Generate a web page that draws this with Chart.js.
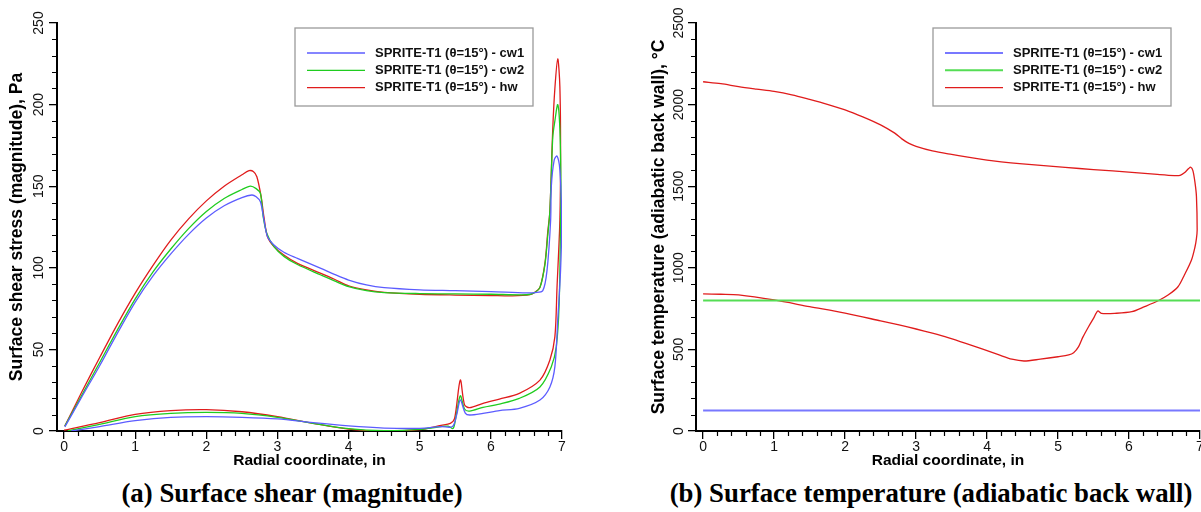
<!DOCTYPE html>
<html>
<head>
<meta charset="utf-8">
<script src="https://cdn.jsdelivr.net/npm/chart.js@4.4.1/dist/chart.umd.min.js"></script>
<style>
  html, body { margin: 0; padding: 0; background: #fff; width: 1201px; height: 512px; overflow: hidden; }
  .panel { position: absolute; top: 0; }
  .caption { position: absolute; top: 478px; font: bold 26.8px "Liberation Serif", "Times New Roman", serif; color: #000; text-align: center; white-space: nowrap; }
</style>
</head>
<body>
<div class="panel" style="left:0"><canvas id="shearChart" width="600" height="472"></canvas></div>
<div class="panel" style="left:600px"><canvas id="tempChart" width="610" height="472"></canvas></div>
<div class="caption" style="left:0;width:584px">(a) Surface shear (magnitude)</div>
<div class="caption" style="left:600px;width:662px">(b) Surface temperature (adiabatic back wall)</div>
<script>
const seriesLabels = ["SPRITE-T1 (θ=15°) - cw1", "SPRITE-T1 (θ=15°) - cw2", "SPRITE-T1 (θ=15°) - hw"];
const xTickValues = [0, 1, 2, 3, 4, 5, 6, 7];

// (a) shear magnitude along the wall: out along the upper branch, back along the lower one
const shearCw1X = [0.01, 0.25, 0.5, 0.75, 1, 1.25, 1.5, 1.75, 2, 2.25, 2.5, 2.64, 2.7, 2.76, 2.81, 2.86, 2.95, 3.09, 3.28, 3.61, 3.8, 4, 4.25, 4.5, 5, 5.5, 6, 6.5, 6.62, 6.73, 6.79, 6.84, 6.85, 6.89, 6.93, 6.97, 6.995, 6.98, 6.94, 6.9, 6.83, 6.69, 6.4, 6.12, 5.89, 5.7, 5.64, 5.57, 5.52, 5.46, 5.3, 5, 4.5, 4, 3.5, 3, 2.5, 2, 1.5, 1, 0.5, 0.1];
const shearCw1 = [2.5, 21, 40, 60, 79, 95, 108.5, 120.5, 130.5, 138, 143, 144.6, 143.5, 140.5, 129.3, 119, 114, 109.5, 105.8, 99.7, 96, 92.5, 89.5, 87.8, 86.5, 86, 85.4, 84.6, 84.8, 86, 98.6, 129, 150, 166, 168.5, 160, 129, 98.6, 68, 39.4, 27, 19, 13.9, 12.5, 10.8, 9.8, 11, 19, 10, 2.7, 2.7, 1.6, 1.8, 3.1, 5.1, 7.4, 8.4, 8.8, 8.4, 6.3, 2.7, 0];

const shearCw2X = [0.01, 0.25, 0.5, 0.75, 1, 1.25, 1.5, 1.75, 2, 2.25, 2.5, 2.62, 2.7, 2.76, 2.8, 2.85, 2.95, 3.09, 3.28, 3.61, 3.8, 4, 4.25, 4.5, 5, 5.5, 6, 6.5, 6.6, 6.69, 6.76, 6.8, 6.83, 6.87, 6.9, 6.94, 6.97, 6.985, 6.98, 6.96, 6.92, 6.85, 6.69, 6.4, 6.12, 5.89, 5.7, 5.63, 5.57, 5.51, 5.47, 5.4, 5.3, 5, 4.5, 4, 3.5, 3, 2.5, 2, 1.5, 1, 0.5, 0.05];
const shearCw2 = [3, 22, 42, 62, 81, 97.5, 111.5, 124, 134.5, 142.5, 148, 150.1, 148.5, 145.6, 131, 121, 113, 107, 102, 95.6, 92, 88.5, 86, 84.8, 84.2, 84, 83.8, 83.5, 84.5, 88, 102, 120, 135, 180, 190, 200, 185, 150, 129, 78, 51.7, 39.4, 27, 20, 16.5, 14.5, 12.2, 13.5, 21.6, 9, 1.6, 3, 2.7, 1, 0.2, 1.4, 4.7, 8.4, 10.8, 11.4, 10.8, 8.8, 4.1, 0];

const shearHwX = [0.01, 0.25, 0.5, 0.75, 1, 1.25, 1.5, 1.75, 2, 2.25, 2.5, 2.6, 2.66, 2.71, 2.77, 2.81, 2.86, 2.95, 3.09, 3.28, 3.61, 3.8, 4, 4.25, 4.5, 5, 5.5, 6, 6.3, 6.55, 6.62, 6.69, 6.76, 6.8, 6.83, 6.87, 6.9, 6.94, 6.97, 6.98, 6.97, 6.93, 6.9, 6.83, 6.69, 6.4, 6.12, 5.89, 5.7, 5.63, 5.57, 5.49, 5.43, 5.3, 5, 4.5, 4, 3.5, 3, 2.5, 2, 1.5, 1, 0.5, 0];
const shearHw = [3, 24, 45, 65.5, 84.5, 101.5, 117, 130, 141, 150, 157, 159.5, 159, 155.8, 143.6, 131, 119, 113, 107.8, 102.7, 96.6, 93, 89, 86.5, 85, 83.8, 83.3, 83, 82.8, 83.5, 85, 88, 102.7, 122, 135, 185, 210, 228, 211, 170, 129, 88, 57.8, 43.5, 31.2, 23.1, 19.6, 17, 14.3, 16, 31.2, 7.7, 4.7, 3.5, 0.8, 0, 1.2, 4.7, 8.8, 11.8, 13.1, 12.5, 10.2, 5.1, 0.5];

// (b) wall temperature; cold-wall cases are held at a fixed temperature
const tempCw1X = [0, 7];
const tempCw1 = [125, 125];
const tempCw2X = [0, 7];
const tempCw2 = [800, 800];
const tempHwX = [0, 0.25, 0.5, 0.75, 1, 1.25, 1.5, 1.75, 2, 2.25, 2.5, 2.7, 2.8, 2.9, 3, 3.23, 3.5, 4, 4.5, 5.1, 5.5, 6.04, 6.4, 6.64, 6.72, 6.78, 6.84, 6.87, 6.9, 6.93, 6.95, 6.96, 6.95, 6.93, 6.88, 6.78, 6.69, 6.55, 6.41, 6.22, 6.04, 5.8, 5.61, 5.56, 5.5, 5.43, 5.35, 5.29, 5.22, 5.15, 5, 4.75, 4.52, 4.35, 4.17, 3.95, 3.7, 3.45, 3.23, 3, 2.76, 2.5, 2, 1.5, 1, 0.5, 0.25, 0];
const tempHw = [2140, 2128, 2110, 2095, 2081, 2060, 2032, 2002, 1968, 1925, 1876, 1825, 1790, 1762, 1744, 1716, 1695, 1660, 1637, 1615, 1602, 1585, 1572, 1565, 1567, 1582, 1608, 1616, 1595, 1520, 1436, 1232, 1180, 1129, 1048, 956, 884, 833, 798, 762, 731, 721, 721, 735, 690, 639, 575, 517, 480, 466, 455, 440, 429, 440, 466, 500, 537, 572, 599, 625, 650, 675, 722, 762, 803, 834, 838, 840];

const shearColors = ["#5c5cff", "#1fcc1f", "#e01c1c"];
const tempColors = ["#7878ff", "#55dd55", "#e01c1c"];
const FONT = "'Liberation Sans', Arial, Helvetica, sans-serif";
Chart.defaults.font.family = FONT;
Chart.defaults.color = "#000";

function points(xs, ys) {
    return xs.map((x, i) => ({ x: x, y: ys[i] }));
}

// Tecplot-style minor ticks between the labelled ones
function minorValues(max, step, every) {
    const out = [];
    for (let i = 1; i * step < max; i++) {
        if (i % every !== 0) out.push(i * step);
    }
    return out;
}

const minorTicks = {
    id: "minorTicks",
    afterDraw(chart, args, opts) {
        const { ctx, scales: { x, y } } = chart;
        ctx.save();
        ctx.strokeStyle = "#000";
        ctx.lineWidth = 1.2;
        ctx.beginPath();
        opts.x.forEach(v => {
            const px = Math.round(x.getPixelForValue(v)) + 0.5;
            ctx.moveTo(px, x.top);
            ctx.lineTo(px, x.top + 5);
        });
        opts.y.forEach(v => {
            const py = Math.round(y.getPixelForValue(v)) + 0.5;
            ctx.moveTo(y.right, py);
            ctx.lineTo(y.right - 5, py);
        });
        ctx.stroke();
        ctx.restore();
    }
};

// Framed legend sitting inside the plot
const boxLegend = {
    id: "boxLegend",
    afterDraw(chart, args, opts) {
        const ctx = chart.ctx;
        const w = 238, h = 78;
        ctx.save();
        ctx.fillStyle = "#fff";
        ctx.fillRect(opts.left, opts.top, w, h);
        ctx.strokeStyle = "#9a9a9a";
        ctx.lineWidth = 1.3;
        ctx.strokeRect(opts.left, opts.top, w, h);
        ctx.font = "bold 13px " + FONT;
        ctx.textBaseline = "middle";
        chart.data.datasets.forEach((ds, i) => {
            const y = opts.top + 25 + i * 17.3;
            ctx.strokeStyle = ds.borderColor;
            ctx.lineWidth = ds.borderWidth;
            ctx.beginPath();
            ctx.moveTo(opts.left + 12, y);
            ctx.lineTo(opts.left + 70, y);
            ctx.stroke();
            ctx.fillStyle = "#111";
            ctx.fillText(ds.label, opts.left + 80, y);
        });
        ctx.restore();
    }
};

function buildChart(canvasId, cfg) {
    const ctx = document.getElementById(canvasId).getContext("2d");
    return new Chart(ctx, {
        type: "scatter",
        data: {
            datasets: cfg.series.map((s, i) => ({
                label: seriesLabels[i],
                data: points(s.x, s.y),
                showLine: true,
                borderColor: cfg.colors[i],
                borderWidth: s.width,
                pointRadius: 0,
                tension: 0.3
            }))
        },
        options: {
            responsive: false,
            animation: false,
            events: [],
            layout: { padding: { top: 23, right: cfg.padRight, left: 0, bottom: 0 } },
            plugins: {
                legend: { display: false },
                tooltip: { enabled: false },
                minorTicks: { x: minorValues(7, 0.2, 5), y: minorValues(cfg.yMax, cfg.yStep / 5, 5) },
                boxLegend: { left: cfg.legendLeft, top: 28 }
            },
            scales: {
                x: {
                    type: "linear",
                    min: -0.1,
                    max: 7,
                    afterBuildTicks: scale => { scale.ticks = xTickValues.map(v => ({ value: v })); },
                    afterFit: scale => { scale.height = 41; },
                    grid: { drawOnChartArea: false, tickLength: 8, color: "#000", lineWidth: 1.3 },
                    border: { color: "#000", width: 2 },
                    ticks: { font: { size: 14 }, color: "#111", padding: 0, maxRotation: 0 },
                    title: {
                        display: true,
                        text: "Radial coordinate, in",
                        font: { size: 15.5, weight: "bold" },
                        padding: { top: 0, bottom: 2 }
                    }
                },
                y: {
                    type: "linear",
                    min: 0,
                    max: cfg.yMax,
                    afterFit: scale => { scale.width = cfg.yWidth; },
                    grid: { drawOnChartArea: false, tickLength: 8, color: "#000", lineWidth: 1.3 },
                    border: { color: "#000", width: 2 },
                    ticks: {
                        stepSize: cfg.yStep,
                        font: { size: 14 },
                        color: "#111",
                        minRotation: 90,
                        maxRotation: 90,
                        crossAlign: "center",
                        padding: cfg.yTickPad,
                        callback: v => String(v)
                    },
                    title: {
                        display: true,
                        text: cfg.yTitle,
                        font: { size: 17.5, weight: "bold" },
                        padding: { top: cfg.yTitlePad, bottom: 0 }
                    }
                }
            }
        },
        plugins: [minorTicks, boxLegend]
    });
}

buildChart("shearChart", {
    series: [
        { x: shearCw1X, y: shearCw1, width: 1.3 },
        { x: shearCw2X, y: shearCw2, width: 1.3 },
        { x: shearHwX, y: shearHw, width: 1.3 }
    ],
    colors: shearColors,
    yMax: 250,
    yStep: 50,
    yWidth: 57,
    padRight: 38,
    yTickPad: -1.5,
    yTitlePad: 6.5,
    yTitle: "Surface shear stress (magnitude), Pa",
    legendLeft: 295
});

buildChart("tempChart", {
    series: [
        { x: tempCw1X, y: tempCw1, width: 2 },
        { x: tempCw2X, y: tempCw2, width: 2 },
        { x: tempHwX, y: tempHw, width: 1.3 }
    ],
    colors: tempColors,
    yMax: 2500,
    yStep: 500,
    yWidth: 96,
    padRight: 10,
    yTickPad: -6.5,
    yTitlePad: 49,
    yTitle: "Surface temperature (adiabatic back wall), °C",
    legendLeft: 333
});
</script>
</body>
</html>
